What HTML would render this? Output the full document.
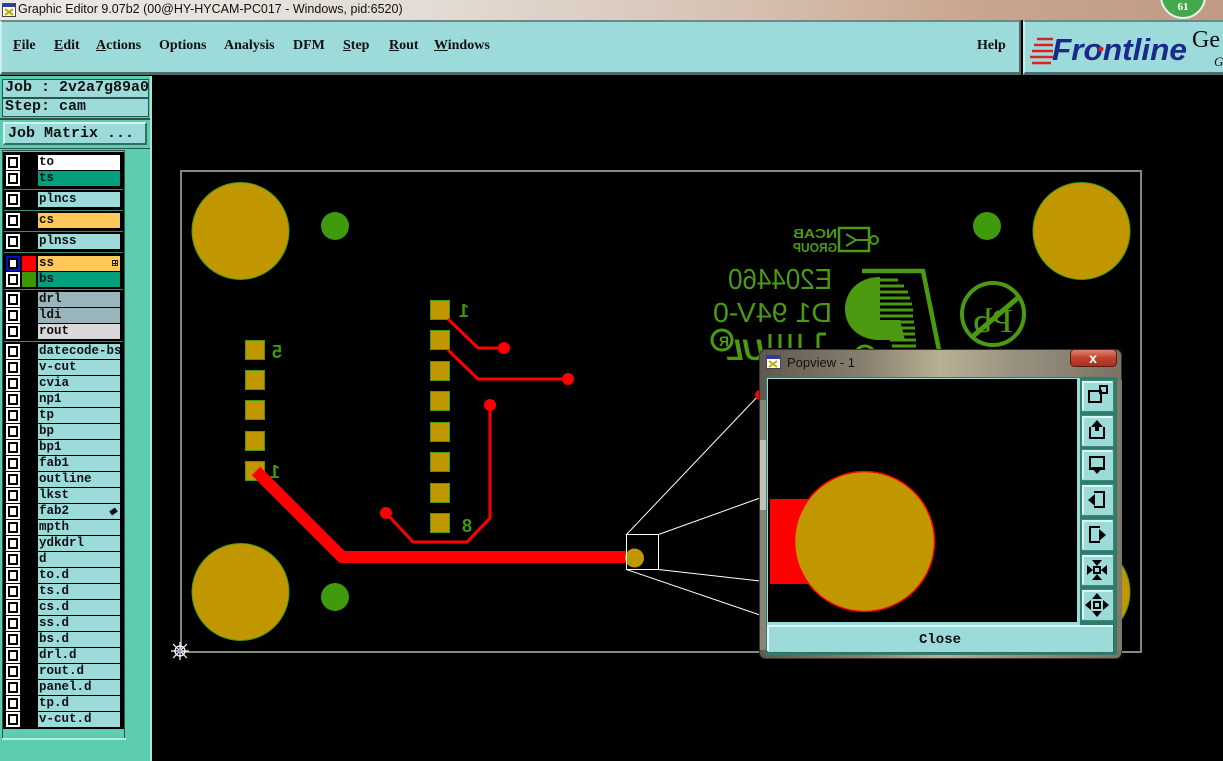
<!DOCTYPE html>
<html><head><meta charset="utf-8">
<style>
*{margin:0;padding:0;box-sizing:border-box}
body{width:1223px;height:761px;overflow:hidden;background:#000;position:relative;font-family:"Liberation Sans",sans-serif}
.abs{position:absolute}
#title{left:0;top:0;width:1223px;height:20px;background:linear-gradient(to right,#ebe8e4 0%,#e3dcd5 35%,#d6c2b3 60%,#c9a58e 80%,#c09a84 100%)}
#title span{position:absolute;left:18px;top:2px;font-size:12.5px;color:#111;white-space:nowrap}
#menu{left:0;top:20px;width:1021px;height:55px;background:#9ddbdb;border-top:2px solid #6c8888;border-left:2px solid #c8eeee;border-bottom:3px solid #4e6b6b;border-right:2px solid #4e6b6b}
#logo{left:1023px;top:20px;width:200px;height:55px;background:#9ddbdb;border-top:2px solid #6c8888;border-left:2px solid #c8eeee;border-bottom:3px solid #4e6b6b}
.mi{position:absolute;top:16px;font-family:"Liberation Serif",serif;font-weight:bold;font-size:14px;line-height:16px;color:#111;white-space:nowrap}
.mi u{text-decoration:underline}
#lp{left:0;top:76px;width:152px;height:685px;background:#5ccdb0;border-right:2px solid #a6e6d6}
.bx{position:absolute;background:#9ddbdb;border:1px solid #27564c;font-family:"Liberation Mono",monospace;font-weight:bold;font-size:15px;line-height:16px;color:#111;padding-left:2px;white-space:nowrap}
.r{position:absolute;left:0;width:124px;height:15px}
.cb{position:absolute;left:6px;top:0;width:14px;height:15px;background:#fff;padding:2px}
.cb i{display:block;width:10px;height:11px;border:2px solid #000;background:#fff}
.nm{position:absolute;left:38px;top:0;width:82px;height:15px;font-family:"Liberation Mono",monospace;font-weight:bold;font-size:12.5px;line-height:15px;color:#111;padding-left:1px;white-space:nowrap;background:#9ddbdb}
.sep{position:absolute;left:4px;width:119px;height:1px;background:#3f8a78}
</style></head><body>

<div id="title" class="abs">
<svg class="abs" style="left:2px;top:3px" width="14" height="14"><rect x="0.5" y="0.5" width="13" height="13" fill="#fff" stroke="#445"/><rect x="1" y="1" width="12" height="3" fill="#2a3e9a"/><path d="M3 6 L11 12 M11 6 L3 12" stroke="#b8b000" stroke-width="2.2"/></svg>
<span>Graphic Editor 9.07b2 (00@HY-HYCAM-PC017 - Windows, pid:6520)</span>
<svg class="abs" style="left:1158px;top:0" width="52" height="20"><circle cx="25" cy="-4" r="22" fill="#44a84c" stroke="#e8f4e8" stroke-width="2"/><text x="25" y="10" text-anchor="middle" font-family="Liberation Serif,serif" font-weight="bold" font-size="11" fill="#fff">61</text></svg>
</div>

<div id="menu" class="abs">
<div class="mi" style="left:11px"><u>F</u>ile</div>
<div class="mi" style="left:52px"><u>E</u>dit</div>
<div class="mi" style="left:94px"><u>A</u>ctions</div>
<div class="mi" style="left:157px">Options</div>
<div class="mi" style="left:222px">Analysis</div>
<div class="mi" style="left:291px">DFM</div>
<div class="mi" style="left:341px"><u>S</u>tep</div>
<div class="mi" style="left:387px"><u>R</u>out</div>
<div class="mi" style="left:432px"><u>W</u>indows</div>
<div class="mi" style="left:975px">Help</div>
</div>

<div id="logo" class="abs">
<svg class="abs" style="left:-2px;top:-2px" width="200" height="55">
<g stroke="#e02020" stroke-width="2.5">
<line x1="14" y1="19" x2="30" y2="19"/><line x1="11" y1="25" x2="30" y2="25"/><line x1="9" y1="31" x2="30" y2="31"/><line x1="7" y1="37" x2="30" y2="37"/><line x1="9" y1="43" x2="28" y2="43"/>
</g>
<text x="29" y="40" font-family="Liberation Sans,sans-serif" font-weight="bold" font-style="italic" font-size="31" fill="#1b2a8a" textLength="135" lengthAdjust="spacingAndGlyphs">Frontline</text>
<circle cx="78" cy="29" r="2.5" fill="#e02020"/>
<text x="169" y="27" font-family="Liberation Serif,serif" font-size="24" fill="#111">Ge</text>
<text x="191" y="46" font-family="Liberation Serif,serif" font-style="italic" font-size="13" fill="#111">G</text>
</svg>
</div>

<svg class="abs" style="left:0;top:0" width="1223" height="761">
<rect x="181" y="171" width="960" height="481" fill="none" stroke="#7c8c78" stroke-width="2"/>
<g fill="#c19700" stroke="#4a9a10" stroke-width="1">
<circle cx="240.5" cy="231" r="48.5"/>
<circle cx="1081.5" cy="231" r="48.5"/>
<circle cx="240.5" cy="592" r="48.5"/>
<circle cx="1081.5" cy="592" r="48.5"/>
</g>
<g fill="#3f9a0c">
<circle cx="335" cy="226" r="14"/>
<circle cx="987" cy="226" r="14"/>
<circle cx="335" cy="597" r="14"/>
<circle cx="987" cy="597" r="14"/>
</g>
<g fill="#c19700" stroke="#4a9a10" stroke-width="1">
<rect x="245.5" y="340.5" width="19" height="19"/>
<rect x="245.5" y="370.5" width="19" height="19"/>
<rect x="245.5" y="400.5" width="19" height="19"/>
<rect x="245.5" y="431.5" width="19" height="19"/>
<rect x="245.5" y="461.5" width="19" height="19"/>
<rect x="430.5" y="300.5" width="19" height="19"/>
<rect x="430.5" y="330.5" width="19" height="19"/>
<rect x="430.5" y="361.5" width="19" height="19"/>
<rect x="430.5" y="391.5" width="19" height="19"/>
<rect x="430.5" y="422.5" width="19" height="19"/>
<rect x="430.5" y="452.5" width="19" height="19"/>
<rect x="430.5" y="483.5" width="19" height="19"/>
<rect x="430.5" y="513.5" width="19" height="19"/>
</g>
<g fill="#3f9a0c" font-family="Liberation Sans,sans-serif" font-weight="bold" font-size="18">
<text transform="scale(-1,1)" x="-282" y="358">5</text>
<text transform="scale(-1,1)" x="-280" y="478">1</text>
<text transform="scale(-1,1)" x="-469" y="317">1</text>
<text transform="scale(-1,1)" x="-472" y="532">8</text>
</g>
<polyline points="256,471 342,557 626,557" fill="none" stroke="#ff0000" stroke-width="12"/>
<g fill="none" stroke="#ff0000" stroke-width="3">
<polyline points="448,319 478,348 503,348"/>
<polyline points="448,350 478,379 568,379"/>
<polyline points="490,405 490,518 467,542 413,542 386,513"/>
</g>
<g fill="#ff0000">
<circle cx="504" cy="348" r="6"/><circle cx="568" cy="379" r="6"/><circle cx="490" cy="405" r="6"/><circle cx="386" cy="513" r="6"/>
</g>
<circle cx="634.5" cy="558" r="9.5" fill="#c19700"/>
<g fill="#4c9a10" font-family="Liberation Sans,sans-serif">
<text transform="scale(-1,1)" x="-837" y="238" font-size="13" font-weight="bold" textLength="44" lengthAdjust="spacingAndGlyphs">NCAB</text>
<text transform="scale(-1,1)" x="-837" y="252" font-size="13" font-weight="bold" textLength="44" lengthAdjust="spacingAndGlyphs">GROUP</text>
<text transform="scale(-1,1)" x="-832" y="289" font-size="29" textLength="104" lengthAdjust="spacingAndGlyphs">E204460</text>
<text transform="scale(-1,1)" x="-832" y="322" font-size="28" textLength="119" lengthAdjust="spacingAndGlyphs">D1 94V-0</text>
<text transform="scale(-1,1)" x="-765" y="360" font-size="30" font-weight="bold" font-style="italic">UL</text>
<text transform="scale(-1,1)" x="-729" y="346" font-size="14" font-weight="bold">R</text>
<text transform="scale(-1,1)" x="-1013" y="332" font-family="Liberation Serif,serif" font-size="34" textLength="40" lengthAdjust="spacingAndGlyphs">Pb</text>
</g>
<g fill="none" stroke="#4c9a10">
<rect x="839" y="228" width="30" height="23" stroke-width="2.5"/>
<polyline points="846,234 856,240 846,246" stroke-width="2"/>
<line x1="856" y1="240" x2="870" y2="240" stroke-width="2"/>
<circle cx="874" cy="240" r="4" stroke-width="2"/>
<circle cx="722" cy="340" r="10" stroke-width="3"/>
<circle cx="993" cy="314" r="31" stroke-width="4"/>
<line x1="972" y1="337" x2="1020" y2="296" stroke-width="5"/>
<polyline points="862,271 923,271 940,355" stroke-width="4.5"/>
<circle cx="865" cy="356" r="10" stroke-width="3"/>
</g>
<g stroke="#4c9a10" stroke-width="3">
<line x1="770" y1="334" x2="770" y2="348"/><line x1="780" y1="334" x2="780" y2="348"/><line x1="790" y1="334" x2="790" y2="348"/><line x1="800" y1="334" x2="800" y2="348"/>
<line x1="818" y1="334" x2="818" y2="348"/><line x1="818" y1="334" x2="826" y2="334"/>
</g>
<path d="M880 277 C858 277 845 292 845 309 C845 326 858 340 880 340 Z" fill="#4c9a10"/>
<path d="M852 320 L900 320 L905 340 L880 340 Z" fill="#4c9a10"/>
<g stroke="#4c9a10" stroke-width="3">
<line x1="872" y1="280" x2="898" y2="280"/><line x1="872" y1="286" x2="904" y2="286"/><line x1="872" y1="292" x2="908" y2="292"/>
<line x1="872" y1="298" x2="910" y2="298"/><line x1="872" y1="304" x2="912" y2="304"/><line x1="872" y1="310" x2="913" y2="310"/>
<line x1="872" y1="316" x2="913" y2="316"/><line x1="880" y1="322" x2="914" y2="322"/><line x1="884" y1="328" x2="915" y2="328"/>
<line x1="888" y1="334" x2="915" y2="334"/><line x1="890" y1="340" x2="916" y2="340"/><line x1="892" y1="346" x2="916" y2="346"/>
</g>
<g stroke="#fff" stroke-width="1" fill="none">
<rect x="626.5" y="534.5" width="32" height="35"/>
<line x1="626.5" y1="534.5" x2="760" y2="394"/>
<line x1="658.5" y1="534.5" x2="760" y2="498"/>
<line x1="658.5" y1="569.5" x2="760" y2="581"/>
<line x1="626.5" y1="569.5" x2="760" y2="615"/>
</g>
<circle cx="760" cy="395" r="5" fill="#ff0000"/>
<g stroke="#fff" stroke-width="1.2" fill="none">
<circle cx="180" cy="651" r="5"/>
<line x1="171" y1="651" x2="189" y2="651"/><line x1="180" y1="642" x2="180" y2="660"/>
<line x1="173" y1="644" x2="187" y2="658"/><line x1="187" y1="644" x2="173" y2="658"/>
</g>
<circle cx="180" cy="651" r="1.5" fill="#a070ff"/>

<defs>
<linearGradient id="tg" x1="0" x2="1" y1="0" y2="0">
<stop offset="0" stop-color="#5e584e"/><stop offset="0.3" stop-color="#8a8270"/><stop offset="0.5" stop-color="#b8b094"/><stop offset="0.7" stop-color="#9a9280"/><stop offset="1" stop-color="#7a7264"/>
</linearGradient>
<linearGradient id="rg" x1="0" x2="0" y1="0" y2="1">
<stop offset="0" stop-color="#e08a78"/><stop offset="0.5" stop-color="#c2402c"/><stop offset="1" stop-color="#a8301e"/>
</linearGradient>
</defs>
<rect x="759.5" y="349.5" width="362" height="309" rx="6" fill="url(#tg)" stroke="#3a342c"/>
<rect x="760" y="400" width="6" height="250" fill="#8a8478"/>
<rect x="760" y="440" width="6" height="70" fill="#c6c1b6"/>
<rect x="1116" y="380" width="6" height="270" fill="#807868"/>
<rect x="1070.5" y="349.5" width="46" height="17" rx="4" fill="url(#rg)" stroke="#5a1a10"/>
<text x="1093" y="363" text-anchor="middle" font-family="Liberation Sans,sans-serif" font-weight="bold" font-size="14" fill="#fff">x</text>
<rect x="766.5" y="355.5" width="14" height="13" fill="#fff" stroke="#445"/><rect x="767" y="356" width="13" height="3" fill="#2a3e9a"/>
<path d="M769 361 L777 367 M777 361 L769 367" stroke="#b8b000" stroke-width="2"/>
<text x="787" y="367" font-family="Liberation Sans,sans-serif" font-size="13" fill="#111">Popview - 1</text>
<rect x="766" y="377" width="351" height="278" fill="#2f7c6c"/>
<rect x="767" y="378" width="313" height="248" fill="#9ddbdb"/>
<rect x="768" y="379" width="309" height="243" fill="#000"/>
<rect x="770" y="499" width="50" height="85" fill="#ff0000"/>
<circle cx="864.5" cy="541.5" r="70" fill="#c19700" stroke="#ff0000" stroke-width="1.5"/>
<g fill="#9ddbdb" stroke="#3a8a7a" stroke-width="1">
<rect x="1081.5" y="380.5" width="32" height="31"/>
<rect x="1081.5" y="415.5" width="32" height="31"/>
<rect x="1081.5" y="449.5" width="32" height="31"/>
<rect x="1081.5" y="484.5" width="32" height="31"/>
<rect x="1081.5" y="519.5" width="32" height="31"/>
<rect x="1081.5" y="554.5" width="32" height="31"/>
<rect x="1081.5" y="589.5" width="32" height="31"/>
</g>
<g fill="none" stroke="#d8f4f4" stroke-width="2">
<polyline points="1083,410 1083,382 1112,382"/><polyline points="1083,445 1083,417 1112,417"/><polyline points="1083,479 1083,451 1112,451"/>
<polyline points="1083,514 1083,486 1112,486"/><polyline points="1083,549 1083,521 1112,521"/><polyline points="1083,584 1083,556 1112,556"/>
<polyline points="1083,619 1083,591 1112,591"/>
</g>
<g fill="none" stroke="#000" stroke-width="2">
<rect x="1089" y="391" width="12" height="11"/><rect x="1100" y="386" width="7" height="7"/>
<polyline points="1090,427 1090,438 1104,438 1104,427"/>
<rect x="1090" y="457" width="14" height="12"/>
<polyline points="1094,492 1104,492 1104,507 1094,507"/>
<polyline points="1100,527 1090,527 1090,542 1100,542"/>
<rect x="1094" y="567" width="6" height="6"/>
<rect x="1094" y="602" width="6" height="6"/>
</g>
<g fill="#000">
<path d="M1097 420 L1103 427 L1091 427 Z"/><rect x="1095" y="425" width="4" height="6"/>
<path d="M1097 474 L1103 467 L1091 467 Z"/>
<path d="M1088 500 L1095 494 L1095 506 Z"/>
<path d="M1106 535 L1099 529 L1099 541 Z"/>
<path d="M1097 566 L1092 560 L1102 560 Z M1097 574 L1092 580 L1102 580 Z M1093 570 L1087 565 L1087 575 Z M1101 570 L1107 565 L1107 575 Z"/>
<path d="M1097 593 L1092 599 L1102 599 Z M1097 617 L1092 611 L1102 611 Z M1085 605 L1091 600 L1091 610 Z M1109 605 L1103 600 L1103 610 Z"/>
</g>
<rect x="767.5" y="625.5" width="346" height="27" fill="#9ddbdb" stroke="#2f6f60"/>
<polyline points="768,651 768,626 1113,626" fill="none" stroke="#d8f4f4" stroke-width="2"/>
<text x="940" y="643" text-anchor="middle" font-family="Liberation Mono,monospace" font-weight="bold" font-size="14" fill="#111">Close</text>
</svg>

<div id="lp" class="abs">
<div class="bx" style="left:2px;top:3px;width:147px;height:19px">Job : 2v2a7g89a0</div>
<div class="bx" style="left:2px;top:22px;width:147px;height:19px">Step: cam</div>
<div class="abs" style="left:0;top:42px;width:150px;height:2px;background:#27564c"></div>
<div class="bx" style="left:3px;top:46px;width:144px;height:23px;border-top:2px solid #d4f2f2;border-left:2px solid #d4f2f2;border-bottom:2px solid #2f6f60;border-right:2px solid #2f6f60;padding-left:3px;line-height:19px">Job Matrix ...</div>
<div class="abs" style="left:0;top:72px;width:150px;height:1px;background:#27564c"></div>
<div class="abs" style="left:2px;top:74px;width:123px;height:590px;border:1px solid #27564c;background:#5ccdb0"></div>
<div class="abs" style="left:3px;top:76px;width:121px;height:577px;background:#000"></div>
<div class="abs" style="left:2px;top:662px;width:124px;height:2px;background:#b6ece0"></div>
</div>

<div class="abs" style="left:0;top:0;width:152px;height:761px">
<div class="sep" style="top:189px"></div>
<div class="sep" style="top:210px"></div>
<div class="sep" style="top:231px"></div>
<div class="sep" style="top:252px"></div>
<div class="sep" style="top:289px"></div>
<div class="sep" style="top:341px"></div>

<div class="r" style="top:155px"><div class="cb"><i></i></div><div class="nm" style="background:#fff">to</div></div>
<div class="r" style="top:171px"><div class="cb"><i></i></div><div class="nm" style="background:#00a07c">ts</div></div>
<div class="r" style="top:192px"><div class="cb"><i></i></div><div class="nm">plncs</div></div>
<div class="r" style="top:213px"><div class="cb"><i></i></div><div class="nm" style="background:#ffc858">cs</div></div>
<div class="r" style="top:234px"><div class="cb"><i></i></div><div class="nm">plnss</div></div>
<div class="r" style="top:256px"><div class="cb" style="background:#fff;box-shadow:inset 0 0 0 2px #0a10c8"><i></i></div><div class="abs" style="left:22px;top:0;width:14px;height:15px;background:#ff0000"></div><div class="nm" style="background:#ffc858">ss<span style="position:absolute;left:74px;top:4px;width:6px;height:6px;border:1px solid #222;background:linear-gradient(#222,#222) center/1px 100% no-repeat,linear-gradient(#222,#222) center/100% 1px no-repeat"></span></div></div>
<div class="r" style="top:272px"><div class="cb"><i></i></div><div class="abs" style="left:22px;top:0;width:14px;height:15px;background:#3c9600"></div><div class="nm" style="background:#00a07c">bs</div></div>
<div class="r" style="top:292px"><div class="cb"><i></i></div><div class="nm" style="background:#9ab4bc">drl</div></div>
<div class="r" style="top:308px"><div class="cb"><i></i></div><div class="nm" style="background:#9ab4bc">ldi</div></div>
<div class="r" style="top:324px"><div class="cb"><i></i></div><div class="nm" style="background:#d8d8d8">rout</div></div>

<div class="r" style="top:344px"><div class="cb"><i></i></div><div class="nm">datecode-bs</div></div>
<div class="r" style="top:360px"><div class="cb"><i></i></div><div class="nm">v-cut</div></div>
<div class="r" style="top:376px"><div class="cb"><i></i></div><div class="nm">cvia</div></div>
<div class="r" style="top:392px"><div class="cb"><i></i></div><div class="nm">np1</div></div>
<div class="r" style="top:408px"><div class="cb"><i></i></div><div class="nm">tp</div></div>
<div class="r" style="top:424px"><div class="cb"><i></i></div><div class="nm">bp</div></div>
<div class="r" style="top:440px"><div class="cb"><i></i></div><div class="nm">bp1</div></div>
<div class="r" style="top:456px"><div class="cb"><i></i></div><div class="nm">fab1</div></div>
<div class="r" style="top:472px"><div class="cb"><i></i></div><div class="nm">outline</div></div>
<div class="r" style="top:488px"><div class="cb"><i></i></div><div class="nm">lkst</div></div>
<div class="r" style="top:504px"><div class="cb"><i></i></div><div class="nm">fab2<span style="position:absolute;left:72px;top:5px;width:7px;height:5px;background:#111;transform:rotate(-35deg)"></span></div></div>
<div class="r" style="top:520px"><div class="cb"><i></i></div><div class="nm">mpth</div></div>
<div class="r" style="top:536px"><div class="cb"><i></i></div><div class="nm">ydkdrl</div></div>
<div class="r" style="top:552px"><div class="cb"><i></i></div><div class="nm">d</div></div>
<div class="r" style="top:568px"><div class="cb"><i></i></div><div class="nm">to.d</div></div>
<div class="r" style="top:584px"><div class="cb"><i></i></div><div class="nm">ts.d</div></div>
<div class="r" style="top:600px"><div class="cb"><i></i></div><div class="nm">cs.d</div></div>
<div class="r" style="top:616px"><div class="cb"><i></i></div><div class="nm">ss.d</div></div>
<div class="r" style="top:632px"><div class="cb"><i></i></div><div class="nm">bs.d</div></div>
<div class="r" style="top:648px"><div class="cb"><i></i></div><div class="nm">drl.d</div></div>
<div class="r" style="top:664px"><div class="cb"><i></i></div><div class="nm">rout.d</div></div>
<div class="r" style="top:680px"><div class="cb"><i></i></div><div class="nm">panel.d</div></div>
<div class="r" style="top:696px"><div class="cb"><i></i></div><div class="nm">tp.d</div></div>
<div class="r" style="top:712px"><div class="cb"><i></i></div><div class="nm">v-cut.d</div></div>
</div>

</body></html>
